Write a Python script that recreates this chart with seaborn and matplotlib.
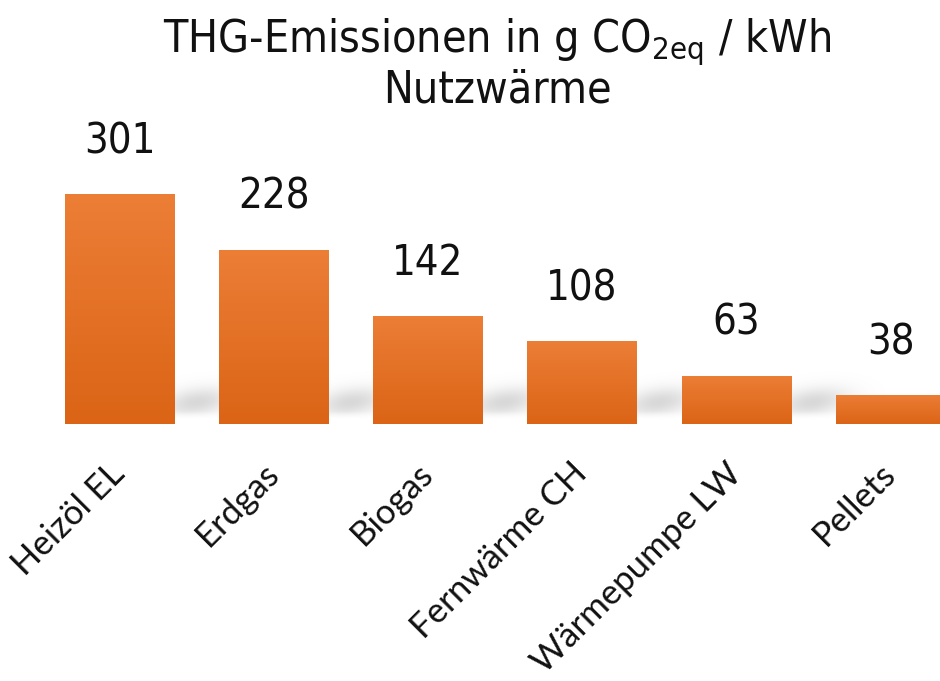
import numpy as np
import pandas as pd
import matplotlib
matplotlib.use("Agg")
import matplotlib.pyplot as plt
import seaborn as sns
from matplotlib.colors import LinearSegmentedColormap

categories = ["Heizöl EL", "Erdgas", "Biogas", "Fernwärme CH", "Wärmepumpe LW", "Pellets"]
values = [301, 228, 142, 108, 63, 38]

title_line1 = r"THG-Emissionen in g CO$_{\mathregular{2eq}}$ / kWh"
title_line2 = "Nutzwärme"

narrow = ["Liberation Sans Narrow", "DejaVu Sans"]
label_font = ["Lato", "Open Sans", "DejaVu Sans"]

sns.set_style("white")
plt.rcParams["font.family"] = narrow

df = pd.DataFrame({"kategorie": categories, "wert": values})

fig = plt.figure(figsize=(9.4, 6.81), dpi=100)
ax = fig.add_axes([0.0, 0.3774, 1.0, 0.6226])

sns.barplot(data=df, x="kategorie", y="wert", color="#E5701F", width=0.71,
            ax=ax, zorder=3)

XL = (-0.775, 5.321)
YL = (0, 555)

# soft grey shadow blobs in the gaps between bars
xs = np.linspace(XL[0], XL[1], 600)[None, :]
ys = np.linspace(YL[0], YL[1], 400)[:, None]
alpha = np.zeros((400, 600))
for i in range(len(categories) - 1):
    gx = i + 0.5
    yc = 28 + (xs - gx) * 25
    blob = np.exp(-((xs - gx) / 0.22) ** 2) * np.exp(-((ys - yc) / 18.0) ** 2)
    alpha = np.maximum(alpha, blob)
alpha *= np.clip((ys - 6) / 10, 0, 1)
shadow = np.zeros((400, 600, 4))
shadow[..., :3] = 0.62
shadow[..., 3] = alpha * 0.4
ax.imshow(shadow, extent=(XL[0], XL[1], YL[0], YL[1]), origin="lower",
          aspect="auto", zorder=1, interpolation="bilinear")

# vertical orange gradient inside each bar
cmap = LinearSegmentedColormap.from_list("org", ["#DB6416", "#EC7E36"])
grad = np.linspace(0, 1, 256)[:, None]
for patch in ax.patches:
    x0, y0 = patch.get_x(), patch.get_y()
    w, h = patch.get_width(), patch.get_height()
    im = ax.imshow(grad, cmap=cmap, extent=(x0, x0 + w, y0, y0 + h),
                   origin="lower", aspect="auto", zorder=4)
    im.set_clip_path(patch)
    patch.set_facecolor("none")
    patch.set_edgecolor("none")

ax.set_xlim(*XL)
ax.set_ylim(*YL)

ax.bar_label(ax.containers[0], labels=[str(v) for v in values], padding=23,
             fontsize=30, family=narrow, fontstretch="condensed", color="#111111")

ax.set_xlabel("")
ax.set_ylabel("")
ax.set_yticks([])
ax.tick_params(axis="x", length=0, pad=32)
for lab in ax.get_xticklabels():
    lab.set_rotation(45)
    lab.set_ha("right")
    lab.set_va("center")
    lab.set_rotation_mode("anchor")
    lab.set_fontsize(25)
    lab.set_family(label_font)
    lab.set_color("#111111")
sns.despine(ax=ax, left=True, bottom=True)

fig.text(0.529, 1 - 16 / 681, title_line1 + "\n" + title_line2, ha="center",
         va="top", fontsize=32, family=narrow, fontstretch="condensed",
         linespacing=1.05, color="#111111")

fig.savefig("out.png", dpi=100)
